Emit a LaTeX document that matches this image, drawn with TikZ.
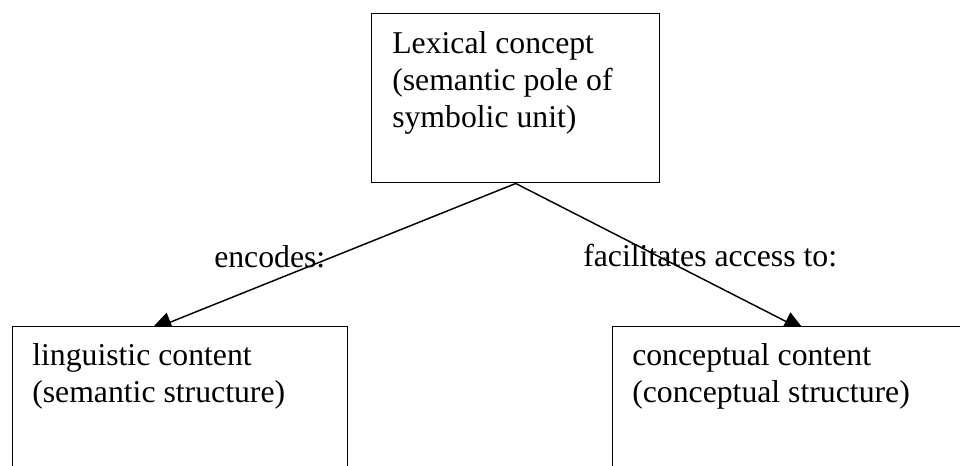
\documentclass[tikz,border=0pt]{standalone}
\usepackage{fontspec}
\setmainfont{Liberation Serif}
\usetikzlibrary{arrows.meta}
\pgfdeclarelayer{bg}
\pgfsetlayers{bg,main}
\begin{document}
\begin{tikzpicture}[x=0.75pt,y=-0.75pt,
  box/.style={draw=black, fill=white, line width=1.1pt, inner sep=0pt, anchor=north west},
  txt/.style={inner sep=0pt, align=left, font=\fontsize{23.8}{27.75}\selectfont},
  conn/.style={line width=1.1pt, -{Triangle[length=16.5pt,width=15pt]}}]
\useasboundingbox (0,0) rectangle (960,466);
\clip (0,0) rectangle (960,466);
% boxes
\node[box, minimum width=216pt, minimum height=126.75pt] (top) at (371,13) {};
\node[box, minimum width=251.25pt, minimum height=145.5pt] (lc) at (12,326) {};
\node[box, minimum width=291pt, minimum height=145.5pt] (cc) at (612,326) {};
% box texts
\node[txt, anchor=north west] (toptxt) at (392,31.6) {Lexical concept\\(semantic pole of\\symbolic unit)};
\node[txt, anchor=north west] (lctxt) at (32,343.3) {linguistic content\\(semantic structure)};
\node[txt, anchor=north west] (cctxt) at (632,343.3) {conceptual content\\(conceptual structure)};
% arrow tip points (hidden inside the boxes)
\coordinate (tipL) at (150,330.3);
\coordinate (tipR) at (805.4,331.4);
\begin{pgfonlayer}{bg}
\draw[conn] (top.south) -- (tipL);
\draw[conn] (top.south) -- (tipR);
\end{pgfonlayer}
% labels
\node[txt, anchor=base west] (enc) at (214,268) {encodes:};
\node[txt, anchor=base west] (fac) at (583,267) {facilitates access to:};
\end{tikzpicture}
\end{document}
